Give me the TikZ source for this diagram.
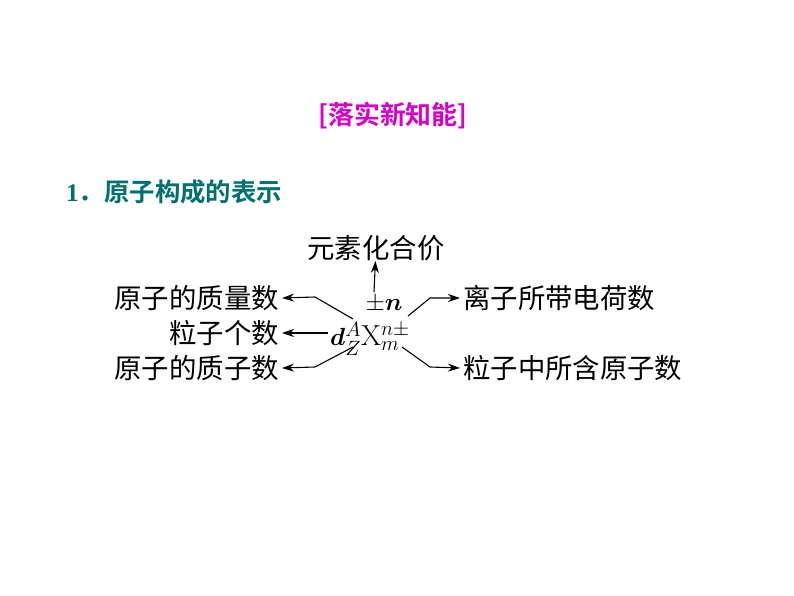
\documentclass[tikz,border=0pt]{standalone}
\usepackage{fontspec}
\usepackage{amsmath,amssymb,bm}
\usetikzlibrary{arrows.meta}
\newfontfamily\cjk[BoldFont={Noto Sans CJK SC Bold}]{Noto Sans CJK SC}
\newfontfamily\numserif{Liberation Serif}
\definecolor{titlemag}{RGB}{214,0,200}
\definecolor{headteal}{RGB}{0,112,112}
\tikzset{
  lab/.style={font=\cjk\fontsize{27.5}{30}\selectfont, inner xsep=3bp, inner ysep=1bp},
  arr/.style={-{Stealth[length=12bp,width=8bp]}, line width=1.1bp},
}
\begin{document}
\begin{tikzpicture}[x=1bp,y=-1bp]
\useasboundingbox (0,0) rectangle (794,596);
\node[font=\cjk\bfseries\fontsize{26}{28}\selectfont, text=titlemag] (title) at (393,116) {[落实新知能]};
\node[anchor=west, font=\cjk\bfseries\fontsize{25.5}{28}\selectfont, text=headteal, inner sep=0] (head) at (66,192) {{\numserif\bfseries 1}．原子构成的表示};

\node[lab, inner ysep=0] (top) at (376,248) {元素化合价};
\node[lab, anchor=east] (l1) at (282,298) {原子的质量数};
\node[lab, anchor=east] (l2) at (282,333) {粒子个数};
\node[lab, anchor=east] (l3) at (282,368) {原子的质子数};
\node[lab, anchor=west] (r1) at (460,298) {离子所带电荷数};
\node[lab, anchor=west] (r2) at (460,368) {粒子中所含原子数};

\node[inner sep=0] (pm) at (384,304) {\fontsize{25}{27}\selectfont$\pm\bm{n}$};
\node[inner sep=0] (core) at (370,339) {\fontsize{29}{30}\selectfont$\bm{d}{}^{A}_{Z}\mathrm{X}^{n\pm}_{m}$};

\coordinate (s1) at (353,319);
\coordinate (b1) at (315,297);
\coordinate (s2) at (328,333);
\coordinate (s3) at (353,347);
\coordinate (b3) at (315,367);
\coordinate (s4) at (408,316);
\coordinate (b4) at (430,298);
\coordinate (s5) at (402,347);
\coordinate (b5) at (430,367);
\coordinate (u0) at (374,292);

\draw[arr] (u0) -- (top);
\draw[arr] (s1) -- (b1) -- (l1.east);
\draw[arr] (s2) -- (l2.east);
\draw[arr] (s3) -- (b3) -- (l3.east);
\draw[arr] (s4) -- (b4) -- (r1.west);
\draw[arr] (s5) -- (b5) -- (r2.west);
\end{tikzpicture}
\end{document}
